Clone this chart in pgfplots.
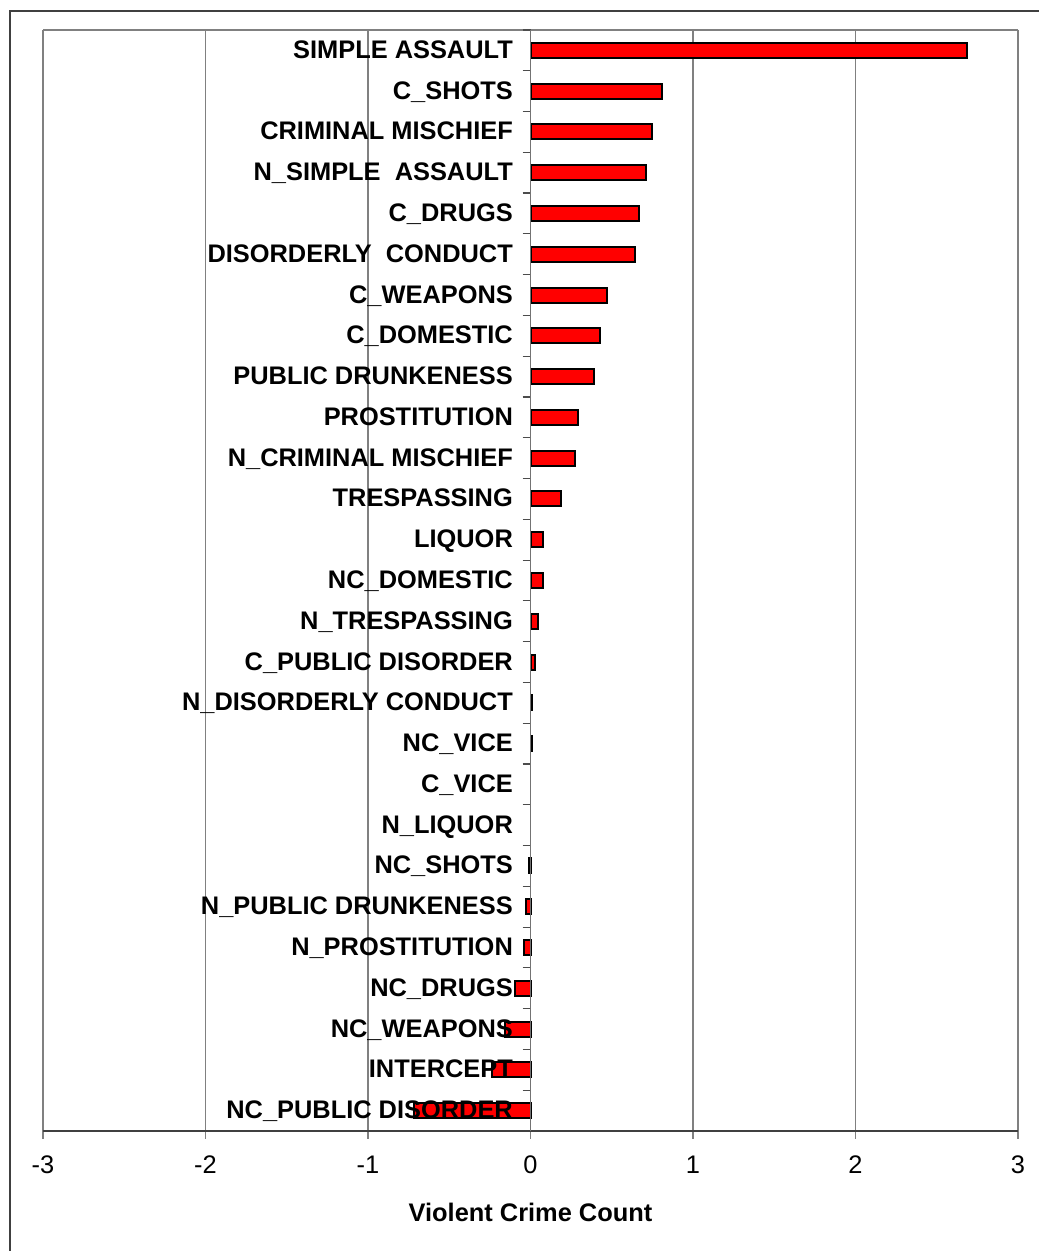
\documentclass[border=0pt]{standalone}
\usepackage{fontspec}
\setmainfont{Liberation Sans}
\usepackage{pgfplots}
\pgfplotsset{compat=1.18}

% grid under the bars, category names over them
\pgfplotsset{
  layers/labels over bars/.define layer set={
    axis background,axis grid,pre main,main,axis ticks,axis lines,axis tick labels,axis descriptions,axis foreground
  }{/pgfplots/layers/standard},
}

\begin{document}
\begin{tikzpicture}
\path (0,0) rectangle (519pt,625.5pt);
\begin{axis}[
    set layers=labels over bars,
    at={(21.5pt,60pt)}, anchor=south west,
    scale only axis,
    width=487.5pt, height=550.5pt,
    xbar, bar width=7.5pt, bar shift=0pt,
    xmin=-3, xmax=3,
    ymin=-0.5, ymax=26.5,
    y dir=reverse,
    axis x line=bottom,
    axis y line=center,
    axis line style={-},
    x axis line style={black!75, line width=1pt},
    y axis line style={black!55, line width=0.6pt},
    hide obscured x ticks=false,
    hide obscured y ticks=false,
    tick align=outside,
    xtick={-3,-2,-1,0,1,2,3},
    major tick length=4pt,
    minor tick length=4pt,
    x tick style={black!50, line width=0.6pt},
    xmajorgrids,
    major grid style={black!50, line width=0.6pt},
    ytick={0,...,26},
    y tick style={draw=none},
    minor ytick={-0.5,0.5,...,25.5},
    minor y tick style={draw=black!70, line width=0.6pt},
    yticklabels={SIMPLE ASSAULT, C\_SHOTS, CRIMINAL MISCHIEF, N\_SIMPLE\ \ ASSAULT,
      C\_DRUGS, DISORDERLY\ \ CONDUCT, C\_WEAPONS, C\_DOMESTIC, PUBLIC DRUNKENESS,
      PROSTITUTION, N\_CRIMINAL MISCHIEF, TRESPASSING, LIQUOR, NC\_DOMESTIC,
      N\_TRESPASSING, C\_PUBLIC DISORDER, N\_DISORDERLY CONDUCT, NC\_VICE, C\_VICE,
      N\_LIQUOR, NC\_SHOTS, N\_PUBLIC DRUNKENESS, N\_PROSTITUTION, NC\_DRUGS,
      NC\_WEAPONS, INTERCEPT, NC\_PUBLIC DISORDER},
    yticklabel style={font=\fontsize{12.7}{15}\selectfont\bfseries, anchor=base east, xshift=-1.3pt, yshift=-4.0pt},
    xticklabel style={font=\fontsize{12.7}{15}\selectfont, yshift=-5pt},
    /pgf/number format/assume math mode=true,
    xlabel={Violent Crime Count},
    xlabel style={font=\fontsize{12.7}{15}\selectfont\bfseries, at={(axis description cs:0.5,0)}, anchor=center, yshift=-40.5pt},
]
\draw[black!50, line width=0.6pt] (axis cs:-3,-0.5) -- (axis cs:3,-0.5);
\addplot[fill=red, draw=black, line width=1pt] coordinates {
    (2.684,0) (0.809,1) (0.748,2) (0.713,3) (0.665,4) (0.641,5)
    (0.472,6) (0.425,7) (0.390,8) (0.294,9) (0.271,10) (0.185,11)
    (0.078,12) (0.074,13) (0.049,14) (0.025,15) (0.012,16) (0.012,17)
    (-0.012,20) (-0.027,21) (-0.037,22) (-0.094,23) (-0.156,24)
    (-0.240,25) (-0.720,26)
};
\end{axis}
\draw[overlay, black!75, line width=1pt] (5pt,-10pt) rectangle (530pt,620pt);
\end{tikzpicture}
\end{document}
